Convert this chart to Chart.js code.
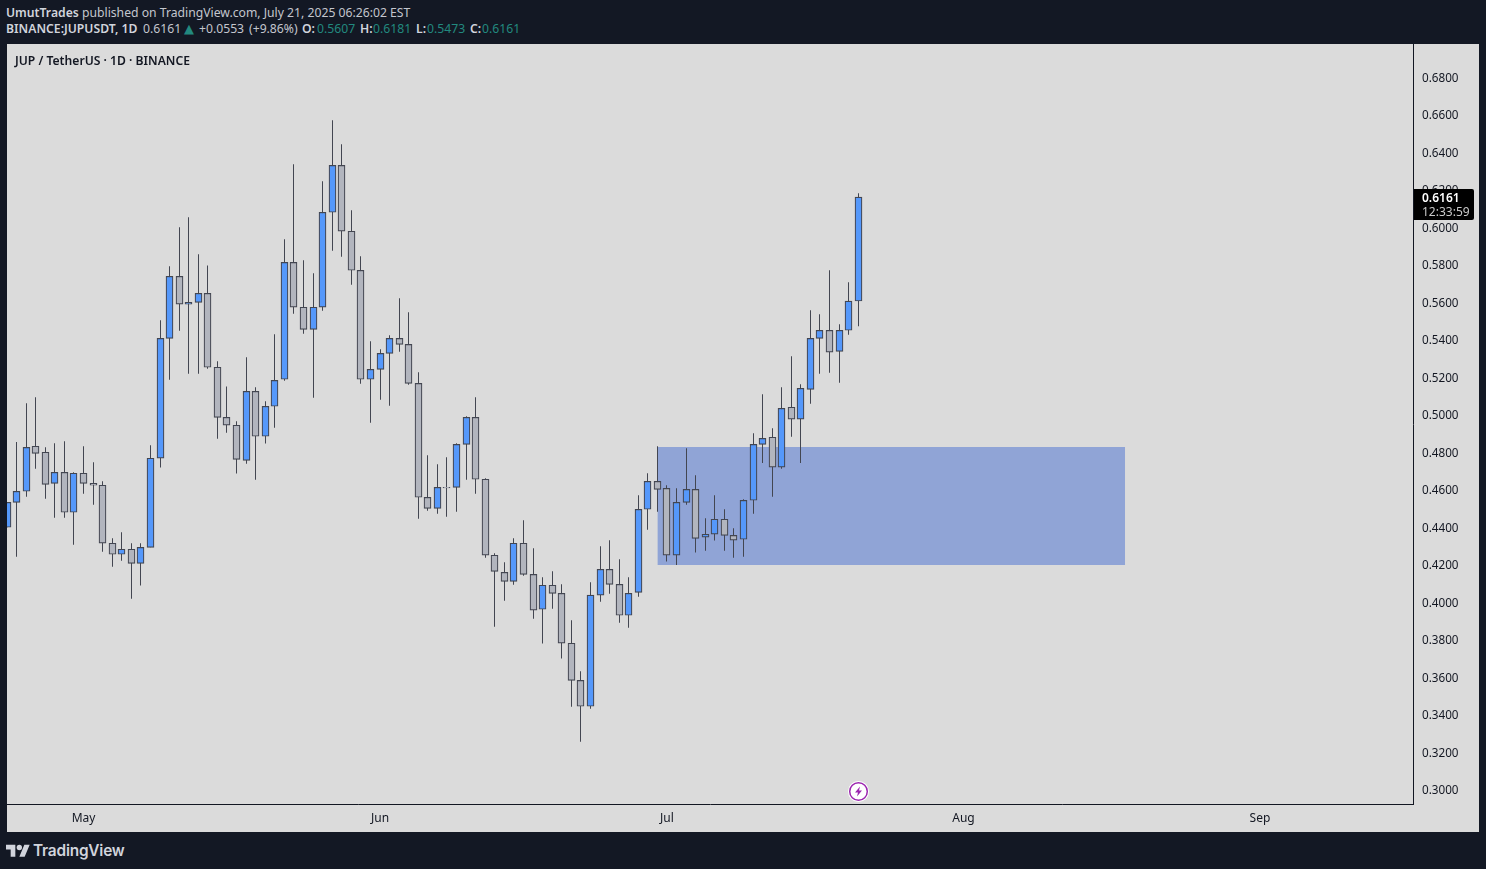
<!DOCTYPE html>
<html>
<head>
<meta charset="utf-8">
<title>JUPUSDT</title>
<script src="https://cdn.jsdelivr.net/npm/chart.js@4"></script>
<style>
  html, body { margin: 0; padding: 0; width: 1486px; height: 869px; overflow: hidden; background: #131824; font-family: "Noto Sans", sans-serif; }
  #panel { position: absolute; left: 7px; top: 44px; width: 1472px; height: 788px; background: #dbdbdb; }
  #chart { position: absolute; left: 7px; top: 44px; }
  .line { position: absolute; left: 6px; font-size: 12.2px; line-height: 16px; color: #c3c6ce; white-space: nowrap; }
  .line b { font-weight: 600; color: #d1d4dc; }
  .line.quote span { position: absolute; top: 0; }
  .line.quote .teal { color: #22897f; }
  .line.quote .tri { font-family: "DejaVu Sans", sans-serif; font-size: 13px; color: #22897f; }
  #title { position: absolute; left: 15px; top: 53px; font-size: 12.15px; line-height: 16px; font-weight: 600; color: #131722; white-space: nowrap; }
  #lastPrice { position: absolute; left: 1414px; top: 189px; width: 60px; height: 31px; background: #000; border-radius: 0 2px 2px 0; color: #fff; font-size: 12px; line-height: 14px; }
  #lastPrice div { padding-left: 8px; white-space: nowrap; }
  #lastPrice .val { font-weight: 600; padding-top: 2px; }
  #lastPrice .timer { color: #c9c9c9; }
  #bolt { position: absolute; left: 848px; top: 781px; }
  #logo { position: absolute; left: 6px; top: 842px; }
  #logoText { position: absolute; left: 33px; top: 841px; font-size: 15.4px; line-height: 20px; font-weight: 600; color: #d1d4dc; letter-spacing: -0.2px; font-family: Inter, sans-serif; }
</style>
</head>
<body>
<div id="panel"></div>
<canvas id="chart" width="1472" height="788"></canvas>
<div class="line" style="top:5px"><b>UmutTrades</b> published on TradingView.com, July 21, 2025 06:26:02 EST</div>
<div class="line quote" style="top:21px">
  <span style="left:0"><b>BINANCE:JUPUSDT, 1D</b></span>
  <span style="left:137px">0.6161</span>
  <span class="tri" style="left:178px">▲</span>
  <span style="left:193px">+0.0553</span>
  <span style="left:243px">(+9.86%)</span>
  <span style="left:296px"><b>O:</b></span><span class="teal" style="left:311px">0.5607</span>
  <span style="left:354px"><b>H:</b></span><span class="teal" style="left:367px">0.6181</span>
  <span style="left:410px"><b>L:</b></span><span class="teal" style="left:421px">0.5473</span>
  <span style="left:464px"><b>C:</b></span><span class="teal" style="left:476px">0.6161</span>
</div>
<div id="title">JUP / TetherUS · 1D · BINANCE</div>
<div id="lastPrice"><div class="val">0.6161</div><div class="timer">12:33:59</div></div>
<svg id="bolt" width="21" height="21" viewBox="0 0 21 21">
  <circle cx="10.5" cy="10.5" r="10.5" fill="#fff"/>
  <circle cx="10.5" cy="10.5" r="8.8" fill="none" stroke="#9c27b0" stroke-width="1.5"/>
  <path d="M12 5.5 L7 11.5 H10 L9 15.5 L14 9.5 H11 Z" fill="#9c27b0"/>
</svg>
<svg id="logo" width="24" height="15" viewBox="0 0 36 22"><path fill="#d1d4dc" d="M14 22H7V11H0V4h14v18zM28 22h-8l7.5-18h8L28 22z"/><circle fill="#d1d4dc" cx="20" cy="8" r="4"/></svg>
<div id="logoText">TradingView</div>

<script>
// candles, one per day, day 0 = May 1
const firstDay = -8;
const opens = [
  0.4401, 0.4534, 0.4593, 0.4833, 0.4801, 0.4635, 0.4694, 0.4481, 0.4689, 0.4635,
  0.4625, 0.4316, 0.4257, 0.4284, 0.4209, 0.4294, 0.4769, 0.5408, 0.5739, 0.5590,
  0.5600, 0.5648, 0.5254, 0.4987, 0.4945, 0.4758, 0.5126, 0.4886, 0.5046, 0.5190,
  0.5813, 0.5574, 0.5456, 0.5574, 0.6080, 0.6330, 0.5979, 0.5771, 0.5190, 0.5243,
  0.5328, 0.5408, 0.5376, 0.5168, 0.4561, 0.4502, 0.4614, 0.4614, 0.4843, 0.4987,
  0.4657, 0.4252, 0.4161, 0.4113, 0.4316, 0.4150, 0.3964, 0.4092, 0.4049, 0.3783,
  0.3585, 0.3447, 0.4039, 0.4177, 0.4097, 0.3932, 0.4054, 0.4497, 0.4646, 0.4609,
  0.4252, 0.4534, 0.4603, 0.4348, 0.4364, 0.4444, 0.4358, 0.4337, 0.4545, 0.4843,
  0.4881, 0.4721, 0.5041, 0.4977, 0.5136, 0.5408, 0.5451, 0.5339, 0.5451, 0.5607
];
const highs = [
  0.4534, 0.4856, 0.5062, 0.5094, 0.4827, 0.4849, 0.4859, 0.4694, 0.4833, 0.4747,
  0.4646, 0.4342, 0.4374, 0.4316, 0.4316, 0.4838, 0.5504, 0.5792, 0.6000, 0.6053,
  0.5856, 0.5797, 0.5286, 0.5152, 0.4966, 0.5307, 0.5147, 0.5073, 0.5430, 0.5936,
  0.6336, 0.5824, 0.5755, 0.6245, 0.6570, 0.6442, 0.6091, 0.5845, 0.5392, 0.5350,
  0.5424, 0.5622, 0.5547, 0.5227, 0.4785, 0.4737, 0.4774, 0.4849, 0.4993, 0.5094,
  0.4662, 0.4262, 0.4214, 0.4342, 0.4438, 0.4289, 0.4134, 0.4166, 0.4097, 0.3905,
  0.3633, 0.4108, 0.4300, 0.4332, 0.4230, 0.4134, 0.4572, 0.4689, 0.4833, 0.4625,
  0.4609, 0.4822, 0.4678, 0.4449, 0.4572, 0.4497, 0.4396, 0.4550, 0.4902, 0.5110,
  0.4929, 0.5147, 0.5312, 0.5163, 0.5558, 0.5536, 0.5771, 0.5483, 0.5707, 0.6181
];
const lows = [
  0.4401, 0.4244, 0.4564, 0.4713, 0.4553, 0.4452, 0.4452, 0.4308, 0.4580, 0.4521,
  0.4271, 0.4191, 0.4223, 0.4020, 0.4090, 0.4294, 0.4719, 0.5188, 0.5449, 0.5220,
  0.5220, 0.5246, 0.4873, 0.4905, 0.4687, 0.4740, 0.4655, 0.4847, 0.4932, 0.5182,
  0.5539, 0.5433, 0.5092, 0.5555, 0.5875, 0.5843, 0.5694, 0.5166, 0.4958, 0.5081,
  0.5049, 0.5337, 0.5161, 0.4447, 0.4489, 0.4473, 0.4457, 0.4484, 0.4655, 0.4580,
  0.4239, 0.3871, 0.4010, 0.4095, 0.4143, 0.3914, 0.3781, 0.3967, 0.3701, 0.3445,
  0.3258, 0.3434, 0.4004, 0.4047, 0.3892, 0.3866, 0.4031, 0.4388, 0.4484, 0.4218,
  0.4200, 0.4521, 0.4266, 0.4276, 0.4330, 0.4276, 0.4239, 0.4244, 0.4473, 0.4744,
  0.4564, 0.4713, 0.4884, 0.4744, 0.5060, 0.5220, 0.5225, 0.5172, 0.5427, 0.5473
];
const closes = [
  0.4534, 0.4593, 0.4827, 0.4795, 0.4630, 0.4694, 0.4481, 0.4689, 0.4635, 0.4625,
  0.4316, 0.4257, 0.4284, 0.4209, 0.4294, 0.4769, 0.5408, 0.5739, 0.5590, 0.5600,
  0.5648, 0.5254, 0.4987, 0.4945, 0.4763, 0.5126, 0.4886, 0.5046, 0.5184, 0.5813,
  0.5574, 0.5456, 0.5574, 0.6080, 0.6330, 0.5979, 0.5771, 0.5190, 0.5243, 0.5328,
  0.5408, 0.5376, 0.5168, 0.4561, 0.4502, 0.4614, 0.4611, 0.4843, 0.4987, 0.4657,
  0.4252, 0.4166, 0.4113, 0.4316, 0.4150, 0.3959, 0.4092, 0.4049, 0.3783, 0.3585,
  0.3447, 0.4039, 0.4177, 0.4097, 0.3932, 0.4049, 0.4497, 0.4646, 0.4603, 0.4252,
  0.4534, 0.4603, 0.4342, 0.4364, 0.4444, 0.4358, 0.4332, 0.4545, 0.4843, 0.4875,
  0.4721, 0.5035, 0.4977, 0.5142, 0.5408, 0.5451, 0.5334, 0.5451, 0.5607, 0.6161
];

const priceTicks = [0.30, 0.32, 0.34, 0.36, 0.38, 0.40, 0.42, 0.44, 0.46, 0.48, 0.50, 0.52, 0.54, 0.56, 0.58, 0.60, 0.62, 0.64, 0.66, 0.68];
const monthLabels = ["May", "Jun", "Jul", "Aug", "Sep"];
const monthDays = [0, 31, 61, 92, 123];

// blue demand box
const zoneTop = 0.4829;
const zoneBottom = 0.42;
const zoneFromDay = 60;
const zoneToDay = 108.9;

const upColor = "#5598fb";
const downColor = "#b2b5be";
const edgeColor = "#434651";

const days = opens.map((_, i) => firstDay + i);

// tv candles sit on whole pixels, avoids blurry wicks
const snapCandles = {
  id: "snapCandles",
  afterDatasetsUpdate(chart) {
    chart.data.datasets.forEach((ds, i) => {
      if (ds.type === "line") return;
      for (const el of chart.getDatasetMeta(i).data) {
        el.x = Math.floor(el.x) + 0.5;
      }
    });
  }
};

// chart.js keeps room for half a label at the ends, the plot has to fill the panel
function noScalePadding(s) {
  s.paddingTop = s.paddingBottom = s.paddingLeft = s.paddingRight = 0;
}

new Chart(document.getElementById("chart"), {
  type: "bar",
  plugins: [snapCandles],
  data: {
    datasets: [
      {
        type: "line",
        data: [{ x: zoneFromDay, y: zoneTop }, { x: zoneToDay, y: zoneTop }],
        fill: { value: zoneBottom },
        backgroundColor: "#90a4d6",
        borderWidth: 0,
        pointRadius: 0,
        order: 3
      },
      {
        data: days.map((d, i) => ({ x: d, y: [lows[i], highs[i]] })),
        backgroundColor: edgeColor,
        borderWidth: 0,
        inflateAmount: 0,
        barThickness: 1,
        grouped: false,
        order: 2
      },
      {
        data: days.map((d, i) => ({ x: d, y: [opens[i], closes[i]] })),
        backgroundColor: days.map((_, i) => closes[i] >= opens[i] ? upColor : downColor),
        borderColor: edgeColor,
        borderWidth: 1.2,
        borderSkipped: false,
        barThickness: 7,
        grouped: false,
        order: 1
      }
    ]
  },
  options: {
    responsive: false,
    animation: false,
    devicePixelRatio: 1,
    layout: { padding: 0 },
    plugins: { legend: { display: false }, tooltip: { enabled: false } },
    scales: {
      x: {
        type: "linear",
        offset: false,
        min: -8,
        max: 139,
        grid: { display: false, drawTicks: false },
        border: { color: "#131722", width: 1 },
        afterFit(s) { s.height = 28; noScalePadding(s); },
        afterBuildTicks(s) { s.ticks = monthDays.map(v => ({ value: v })); },
        ticks: {
          autoSkip: false,
          maxRotation: 0,
          padding: 7,
          color: "#131722",
          font: { family: "Noto Sans", size: 12 },
          callback: v => monthLabels[monthDays.indexOf(v)]
        }
      },
      y: {
        position: "right",
        min: 0.2926,
        max: 0.6977,
        grid: { display: false, drawTicks: false },
        border: { color: "#131722", width: 1 },
        afterFit(s) { s.width = 66; noScalePadding(s); },
        afterBuildTicks(s) { s.ticks = priceTicks.map(v => ({ value: v })); },
        ticks: {
          padding: 9,
          labelOffset: 1,
          color: "#131722",
          font: { family: "Noto Sans", size: 11.7 },
          callback: v => v.toFixed(4)
        }
      }
    }
  }
});
</script>
</body>
</html>
